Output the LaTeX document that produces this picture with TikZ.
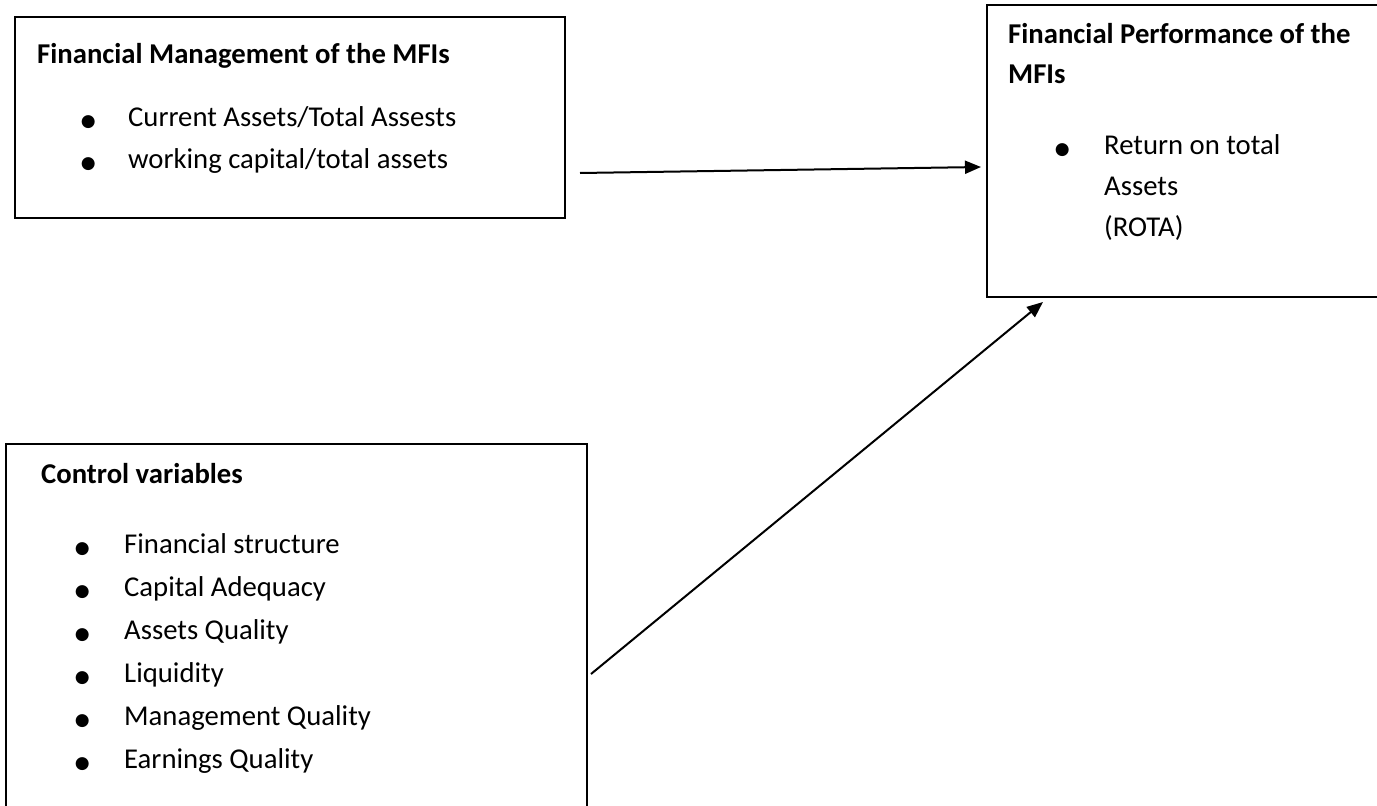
\documentclass[tikz,border=0pt]{standalone}
\usepackage{fontspec}
\setmainfont{Carlito}
\newfontfamily\dotfont{DejaVu Sans}
\usetikzlibrary{arrows.meta, calc}
\newcommand{\blt}{\makebox[11pt]{\dotfont\fontsize{17}{17}\selectfont ●}}

\begin{document}
\begin{tikzpicture}[x=1pt, y=-1pt,
   frame/.style={rectangle, draw, line width=1.7pt, anchor=north west, inner sep=0pt, outer sep=0pt},
   head/.style={anchor=base west, inner sep=0pt, font=\fontsize{28.7}{40}\selectfont\bfseries},
   items/.style={anchor=base west, inner sep=0pt, font=\fontsize{28.7}{42}\selectfont},
   link/.style={line width=2pt, -{Triangle[length=16pt, width=13pt]}}]
  \useasboundingbox (0,0) rectangle (1377,806);
  \node[frame, minimum width=550pt, minimum height=201pt] (fm) at (15,17) {};
  \node[frame, minimum width=400pt, minimum height=292pt] (fp) at (987,5) {};
  \node[frame, minimum width=581pt, minimum height=372pt] (cv) at (6,444) {};

  \node[head] (fmhead) at (37,63) {Financial Management of the MFIs};
  \node[items] (fmlist) at (82.5,126) {\begin{tabular}[t]{@{}p{45.5pt}@{}l@{}}
      \blt & Current Assets/Total Assests\\
      \blt & working capital/total assets
    \end{tabular}};

  \node[head] (fphead) at (1008,43) {\begin{tabular}[t]{@{}l@{}}
      Financial Performance of the\\
      MFIs
    \end{tabular}};
  \node[items, font=\fontsize{28.7}{41}\selectfont] (fplist) at (1056.5,154) {\begin{tabular}[t]{@{}p{47.5pt}@{}l@{}}
      \blt & Return on total\\
           & Assets\\
           & (ROTA)
    \end{tabular}};

  \node[head] (cvhead) at (41,483) {Control variables};
  \node[items, font=\fontsize{28.7}{43}\selectfont] (cvlist) at (76.5,553) {\begin{tabular}[t]{@{}p{47.5pt}@{}l@{}}
      \blt & Financial structure\\
      \blt & Capital Adequacy\\
      \blt & Assets Quality\\
      \blt & Liquidity\\
      \blt & Management Quality\\
      \blt & Earnings Quality
    \end{tabular}};

  \coordinate (fmout) at ($(fm.north east)+(15,156)$);
  \coordinate (fpin) at ($(fp.north west)+(-6,162)$);
  \coordinate (cvout) at ($(cv.north east)+(4,230)$);
  \coordinate (fpfoot) at ($(fp.south west)+(56,5)$);
  \draw[link] (fmout) -- (fpin);
  \draw[link] (cvout) -- (fpfoot);
\end{tikzpicture}
\end{document}
